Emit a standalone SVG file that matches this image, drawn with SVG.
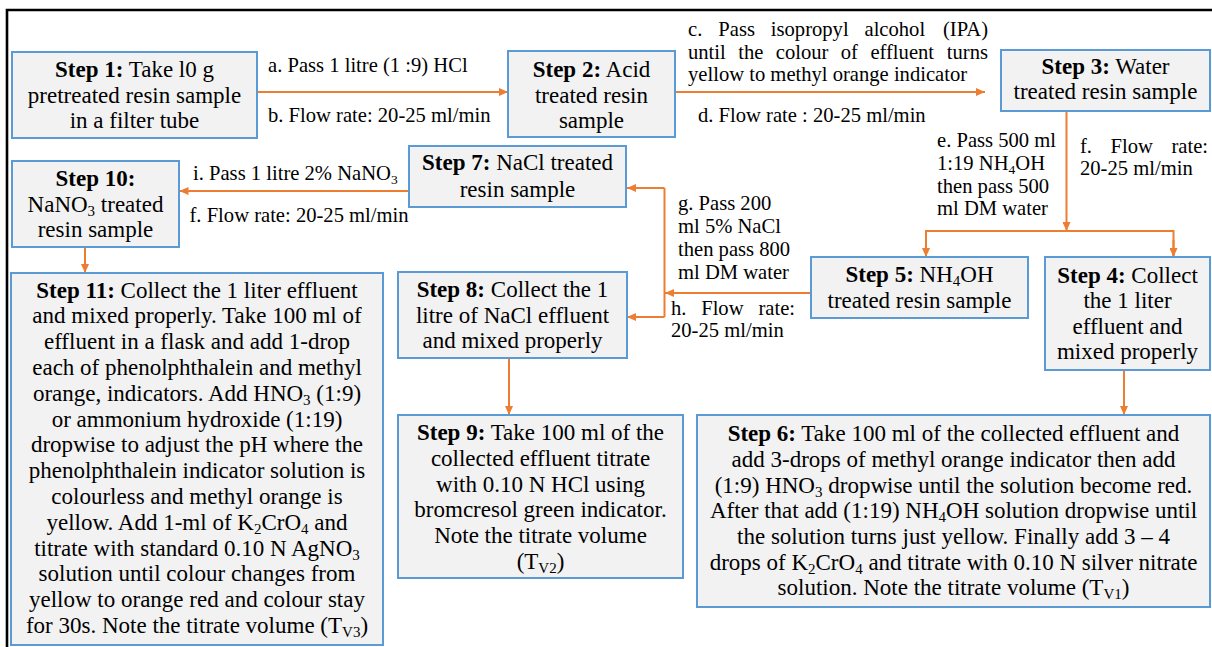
<svg xmlns="http://www.w3.org/2000/svg" width="1212" height="647" viewBox="0 0 1212 647">
<style>
.box{fill:#f2f2f2;stroke:#5b9bd5;stroke-width:2}
.t{font-family:"Liberation Serif","Times New Roman",serif;font-size:23px;fill:#000;text-anchor:middle}
.b{font-weight:bold}
.sub{font-size:15px}
.lbl{font-family:"Liberation Serif","Times New Roman",serif;font-size:20.6px;fill:#000}
.end{text-anchor:end}
.lsub{font-size:13.5px}
.conn{stroke:#ed7d31;stroke-width:2;fill:none}
.frame{stroke:#000;stroke-width:2.6;fill:none}
</style>
<defs>
<marker id="ah" markerUnits="userSpaceOnUse" markerWidth="9" markerHeight="8" refX="9" refY="4" orient="auto">
<path d="M0,0 L9,4 L0,8 z" fill="#ed7d31"/>
</marker>
</defs>
<rect width="1212" height="647" fill="#fff"/>
<path class="frame" d="M7,647 V10 H1212"/>

<g id="connectors">
<line class="conn" x1="257" y1="92" x2="508" y2="92" marker-end="url(#ah)"/>
<line class="conn" x1="675" y1="92" x2="985" y2="92" marker-end="url(#ah)"/>
<line class="conn" x1="1066.5" y1="111" x2="1066.5" y2="231" marker-end="url(#ah)"/>
<path class="conn" d="M926,257 V231 H1173.5 V257"/>
<line class="conn" x1="926" y1="240" x2="926" y2="257" marker-end="url(#ah)"/>
<line class="conn" x1="1173.5" y1="240" x2="1173.5" y2="257" marker-end="url(#ah)"/>
<line class="conn" x1="1124" y1="370" x2="1124" y2="415" marker-end="url(#ah)"/>
<line class="conn" x1="811" y1="293" x2="665" y2="293" marker-end="url(#ah)"/>
<path class="conn" d="M664.5,188 V317"/>
<line class="conn" x1="664.5" y1="188" x2="627" y2="188" marker-end="url(#ah)"/>
<line class="conn" x1="664.5" y1="317" x2="627" y2="317" marker-end="url(#ah)"/>
<line class="conn" x1="409" y1="191" x2="179.5" y2="191" marker-end="url(#ah)"/>
<line class="conn" x1="85" y1="247" x2="85" y2="273" marker-end="url(#ah)"/>
<line class="conn" x1="509" y1="358" x2="509" y2="415" marker-end="url(#ah)"/>
</g>

<g id="labels">
<text class="lbl" x="268" y="72">a. Pass 1 litre (1 :9) HCl</text>
<text class="lbl" x="268" y="122">b. Flow rate: 20-25 ml/min</text>
<text class="lbl" y="36"><tspan x="688">c.</tspan><tspan x="718.3">Pass</tspan><tspan x="770.8">isopropyl</tspan><tspan x="864.5">alcohol</tspan></text>
<text class="lbl end" x="988" y="36">(IPA)</text>
<text class="lbl" y="58.5"><tspan x="688">until</tspan><tspan x="738.2">the</tspan><tspan x="775.8">colour</tspan><tspan x="840.8">of</tspan><tspan x="870.4">effluent</tspan></text>
<text class="lbl end" x="988" y="58.5">turns</text>
<text class="lbl" x="688" y="81">yellow to methyl orange indicator</text>
<text class="lbl" x="698" y="122">d. Flow rate : 20-25 ml/min</text>
<text class="lbl" x="937" y="147">e. Pass 500 ml</text>
<text class="lbl" x="937" y="169.5">1:19 NH<tspan class="lsub" dy="4">4</tspan><tspan dy="-4">OH</tspan></text>
<text class="lbl" x="937" y="192.5">then pass 500</text>
<text class="lbl" x="937" y="215">ml DM water</text>
<text class="lbl" y="152.5"><tspan x="1080">f.</tspan><tspan x="1110.5">Flow</tspan></text>
<text class="lbl end" x="1208" y="152.5">rate:</text>
<text class="lbl" x="1080" y="175">20-25 ml/min</text>
<text class="lbl" x="678" y="210">g. Pass 200</text>
<text class="lbl" x="678" y="233">ml 5% NaCl</text>
<text class="lbl" x="678" y="256">then pass 800</text>
<text class="lbl" x="678" y="279">ml DM water</text>
<text class="lbl" y="315"><tspan x="671">h.</tspan><tspan x="701.2">Flow</tspan></text>
<text class="lbl end" x="795" y="315">rate:</text>
<text class="lbl" x="671" y="337">20-25 ml/min</text>
<text class="lbl" x="193" y="180">i. Pass 1 litre 2% NaNO<tspan class="lsub" dy="4">3</tspan></text>
<text class="lbl" x="189.5" y="222">f. Flow rate: 20-25 ml/min</text>
</g>

<g id="step1">
<rect class="box" x="12" y="52" width="245" height="86"/>
<text class="t" x="134.5" y="77"><tspan class="b">Step 1:</tspan> Take l0 g</text>
<text class="t" x="134.5" y="102.5">pretreated resin sample</text>
<text class="t" x="134.5" y="128">in a filter tube</text>
</g>

<g id="step2">
<rect class="box" x="508" y="51" width="167" height="86"/>
<text class="t" x="591.5" y="77"><tspan class="b">Step 2:</tspan> Acid</text>
<text class="t" x="591.5" y="102.5">treated resin</text>
<text class="t" x="591.5" y="128">sample</text>
</g>

<g id="step3">
<rect class="box" x="1001" y="50" width="209" height="61"/>
<text class="t" x="1105.5" y="73.5"><tspan class="b">Step 3:</tspan> Water</text>
<text class="t" x="1105.5" y="99">treated resin sample</text>
</g>

<g id="step4">
<rect class="box" x="1045" y="257" width="165" height="113"/>
<text class="t" x="1127.5" y="282.5"><tspan class="b">Step 4:</tspan> Collect</text>
<text class="t" x="1127.5" y="308">the 1 liter</text>
<text class="t" x="1127.5" y="333.5">effluent and</text>
<text class="t" x="1127.5" y="359">mixed properly</text>
</g>

<g id="step5">
<rect class="box" x="811" y="257" width="217" height="61"/>
<text class="t" x="919.5" y="282"><tspan class="b">Step 5:</tspan> NH<tspan class="sub" dy="4">4</tspan><tspan dy="-4">OH</tspan></text>
<text class="t" x="919.5" y="308">treated resin sample</text>
</g>

<g id="step6">
<rect class="box" x="697" y="415" width="513" height="192"/>
<text class="t" x="953.5" y="441"><tspan class="b">Step 6:</tspan> Take 100 ml of the collected effluent and</text>
<text class="t" x="953.5" y="467">add 3-drops of methyl orange indicator then add</text>
<text class="t" x="953.5" y="492.5">(1:9) HNO<tspan class="sub" dy="4">3</tspan><tspan dy="-4"> dropwise until the solution become red.</tspan></text>
<text class="t" x="953.5" y="518">After that add (1:19) NH<tspan class="sub" dy="4">4</tspan><tspan dy="-4">OH solution dropwise until</tspan></text>
<text class="t" x="953.5" y="544">the solution turns just yellow. Finally add 3 – 4</text>
<text class="t" x="953.5" y="569.5">drops of K<tspan class="sub" dy="4">2</tspan><tspan dy="-4">CrO</tspan><tspan class="sub" dy="4">4</tspan><tspan dy="-4"> and titrate with 0.10 N silver nitrate</tspan></text>
<text class="t" x="953.5" y="595">solution. Note the titrate volume (T<tspan class="sub" dy="4">V1</tspan><tspan dy="-4">)</tspan></text>
</g>

<g id="step7">
<rect class="box" x="409" y="146" width="217" height="61"/>
<text class="t" x="517.5" y="170"><tspan class="b">Step 7:</tspan> NaCl treated</text>
<text class="t" x="517.5" y="196.5">resin sample</text>
</g>

<g id="step8">
<rect class="box" x="398" y="272" width="229" height="86"/>
<text class="t" x="512.5" y="297"><tspan class="b">Step 8:</tspan> Collect the 1</text>
<text class="t" x="512.5" y="322.5">litre of NaCl effluent</text>
<text class="t" x="512.5" y="348">and mixed properly</text>
</g>

<g id="step9">
<rect class="box" x="398" y="415" width="285" height="163"/>
<text class="t" x="540.5" y="440"><tspan class="b">Step 9:</tspan> Take 100 ml of the</text>
<text class="t" x="540.5" y="466">collected effluent titrate</text>
<text class="t" x="540.5" y="491.5">with 0.10 N HCl using</text>
<text class="t" x="540.5" y="517">bromcresol green indicator.</text>
<text class="t" x="540.5" y="543">Note the titrate volume</text>
<text class="t" x="540.5" y="568.5">(T<tspan class="sub" dy="4">V2</tspan><tspan dy="-4">)</tspan></text>
</g>

<g id="step10">
<rect class="box" x="12" y="161" width="167" height="86"/>
<text class="t" x="95.5" y="186"><tspan class="b">Step 10:</tspan></text>
<text class="t" x="95.5" y="211.5">NaNO<tspan class="sub" dy="4">3</tspan><tspan dy="-4"> treated</tspan></text>
<text class="t" x="95.5" y="237">resin sample</text>
</g>

<g id="step11">
<rect class="box" x="11" y="273" width="372" height="372"/>
<text class="t" x="197" y="297.5"><tspan class="b">Step 11:</tspan> Collect the 1 liter effluent</text>
<text class="t" x="197" y="323.3">and mixed properly. Take 100 ml of</text>
<text class="t" x="197" y="349">effluent in a flask and add 1-drop</text>
<text class="t" x="197" y="375">each of phenolphthalein and methyl</text>
<text class="t" x="197" y="400.8">orange, indicators. Add HNO<tspan class="sub" dy="4">3</tspan><tspan dy="-4"> (1:9)</tspan></text>
<text class="t" x="197" y="426.6">or ammonium hydroxide (1:19)</text>
<text class="t" x="197" y="452.4">dropwise to adjust the pH where the</text>
<text class="t" x="197" y="478.2">phenolphthalein indicator solution is</text>
<text class="t" x="197" y="504">colourless and methyl orange is</text>
<text class="t" x="197" y="529.8">yellow. Add 1-ml of K<tspan class="sub" dy="4">2</tspan><tspan dy="-4">CrO</tspan><tspan class="sub" dy="4">4</tspan><tspan dy="-4"> and</tspan></text>
<text class="t" x="197" y="555.6">titrate with standard 0.10 N AgNO<tspan class="sub" dy="4">3</tspan></text>
<text class="t" x="197" y="581.4">solution until colour changes from</text>
<text class="t" x="197" y="607.2">yellow to orange red and colour stay</text>
<text class="t" x="197" y="633">for 30s. Note the titrate volume (T<tspan class="sub" dy="4">V3</tspan><tspan dy="-4">)</tspan></text>
</g>
</svg>
